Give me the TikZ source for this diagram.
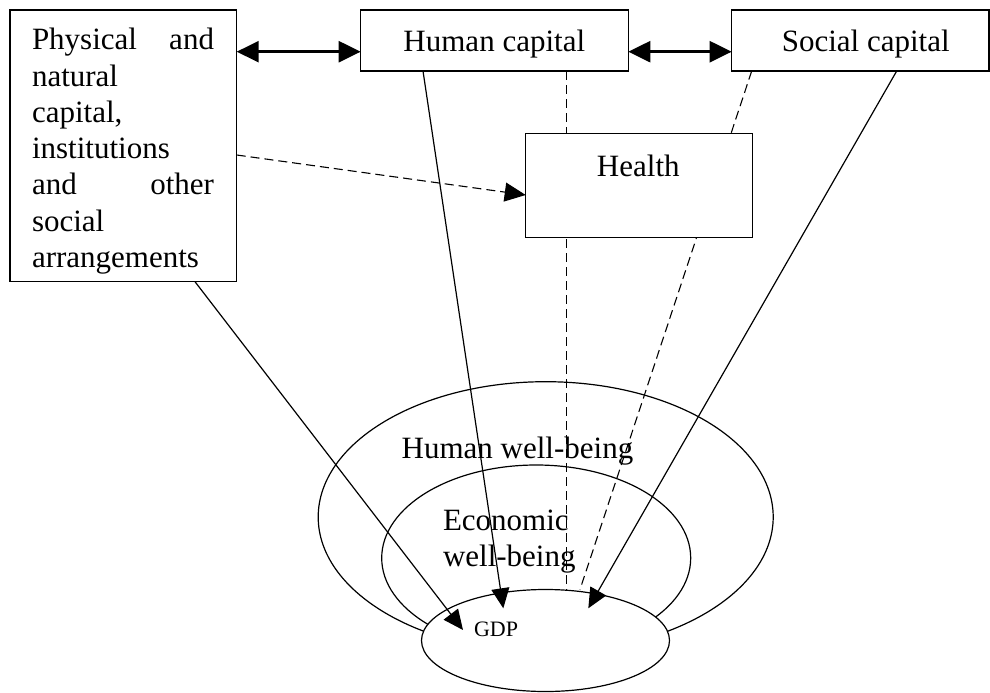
\documentclass[tikz,border=0pt]{standalone}
\usepackage{fontspec}
\setmainfont{Liberation Serif}
\usetikzlibrary{arrows.meta,calc,shapes.geometric}
\pgfdeclarelayer{background}
\pgfsetlayers{background,main}
\begin{document}
\begin{tikzpicture}[x=1pt,y=-1pt,
  box/.style={draw,line width=1.2pt,fill=white,inner sep=0pt,outer sep=0pt,anchor=north west},
  oval/.style={draw,ellipse,line width=1.2pt,inner sep=0pt,outer sep=0pt},
  lbl/.style={inner sep=0pt,outer sep=0pt,font=\fontsize{31}{36.2}\selectfont},
  onetip/.style={line width=1.2pt,-{Triangle[length=20pt,width=18pt]}},
  twotip/.style={line width=2.4pt,{Triangle[length=22pt,width=21pt]}-{Triangle[length=22pt,width=21pt]}},
  dashline/.style={line width=1.1pt,dash pattern=on 9pt off 5pt}
]
\useasboundingbox (0,0) rectangle (990,693);

% boxes
\node[box,minimum width=226.7pt,minimum height=271.7pt] (phys) at (10,10) {};
\node[box,minimum width=267.6pt,minimum height=61pt] (hc) at (360.7,10) {};
\node[box,minimum width=257.3pt,minimum height=61pt] (sc) at (731.7,10) {};
\node[box,minimum width=226.6pt,minimum height=104pt] (hl) at (525.7,133.3) {};

% box labels
\node[lbl,text width=182pt,align=left,anchor=base west] (phystxt) at (32,50)
  {\leavevmode\hbox to 182pt{Physical\hfill and}\\natural\\capital,\\institutions\\\leavevmode\hbox to 182pt{and\hfill other}\\social\\arrangements};
\node[lbl,anchor=base] (hctxt) at (494.3,51.7) {Human capital};
\node[lbl,anchor=base] (sctxt) at (865.7,51.7) {Social capital};
\node[lbl,anchor=base] (hltxt) at (638.3,176) {Health};

% ellipses
\node[oval,minimum width=455pt,minimum height=270.6pt] (hwb) at (545.7,517) {};
\node[oval,minimum width=309pt,minimum height=186pt] (ewb) at (536.2,558) {};
\node[oval,fill=white,minimum width=248pt,minimum height=102pt] (gdp) at (545.5,640.5) {};

\node[lbl,anchor=base west] (hwbtxt) at (401.7,458.3) {Human well-being};
\node[lbl,text width=150pt,align=left,anchor=base west] (ewbtxt) at (443,530.7) {Economic\\well-being};
\node[inner sep=0pt,outer sep=0pt,font=\fontsize{22}{26}\selectfont,anchor=base west] (gdptxt) at (474,636) {GDP};

% double arrows
\draw[twotip] ([yshift=-41.7pt]phys.north east) -- ([yshift=-11.2pt]hc.west);
\draw[twotip] ([yshift=-11.2pt]hc.east) -- ([yshift=-11.2pt]sc.west);

% dashed connectors
\draw[dashline,-{Triangle[length=21pt,width=19pt]}] ([yshift=-145pt]phys.north east) -- ([yshift=-9.7pt]hl.west);
\begin{pgfonlayer}{background}
\draw[dashline] ([xshift=206pt]hc.south west) -- ([xshift=21.2pt]gdp.north);
\draw[dashline] ([xshift=20pt]sc.south west) -- ([xshift=34.5pt]gdp.north);
\end{pgfonlayer}

% solid arrows to GDP
\draw[onetip] ([xshift=185pt]phys.south west) -- ([xshift=-82.5pt,yshift=10.5pt]gdp.center);
\draw[onetip] ([xshift=62.3pt]hc.south west) -- ([xshift=-42.2pt,yshift=32.2pt]gdp.center);
\draw[onetip] ([xshift=165pt]sc.south west) -- ([xshift=42.8pt,yshift=32.2pt]gdp.center);
\end{tikzpicture}
\end{document}
